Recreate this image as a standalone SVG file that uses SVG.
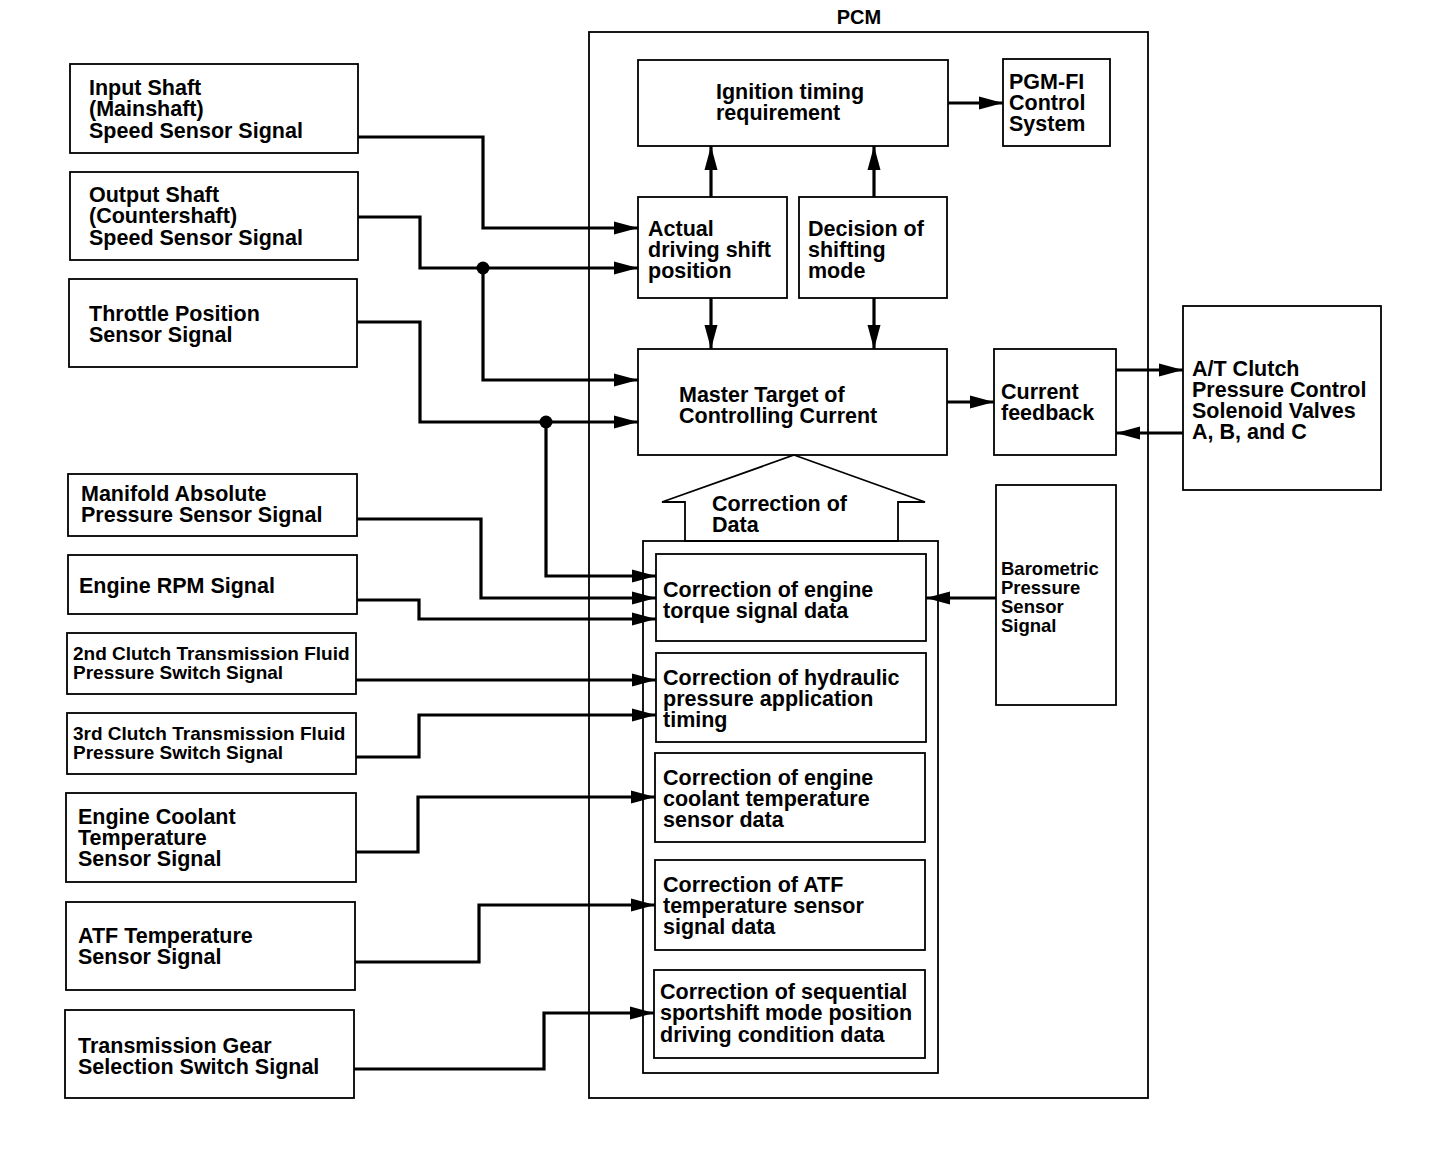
<svg xmlns="http://www.w3.org/2000/svg" width="1456" height="1172" viewBox="0 0 1456 1172">
<style>
.box{fill:none;stroke:#000;stroke-width:1.8}
.t{font-family:"Liberation Sans",Arial,sans-serif;font-weight:bold;font-size:21.5px;fill:#000}
.s{font-size:19px}
.b{font-size:18.5px}
.c{fill:none;stroke:#000;stroke-width:3.2}
.a{marker-end:url(#ah)}
</style>
<defs>
<marker id="ah" markerUnits="userSpaceOnUse" markerWidth="26" markerHeight="16" viewBox="0 0 26 16" refX="24" refY="8" orient="auto">
<path d="M0,1.5 L24,8 L0,14.5 Z" fill="#000"/>
</marker>
</defs>
<rect width="1456" height="1172" fill="#fff"/>

<g id="pcm">
<rect class="box" x="589" y="32" width="559" height="1066"/>
<text class="t" x="859" y="24" text-anchor="middle" style="font-size:20px">PCM</text>
</g>

<g id="n-input"><rect class="box" x="70" y="64" width="288" height="89"/>
<text class="t" x="89" y="95">Input Shaft</text><text class="t" x="89" y="116">(Mainshaft)</text><text class="t" x="89" y="138">Speed Sensor Signal</text></g>
<g id="n-output"><rect class="box" x="70" y="172" width="288" height="88"/>
<text class="t" x="89" y="202">Output Shaft</text><text class="t" x="89" y="223">(Countershaft)</text><text class="t" x="89" y="245">Speed Sensor Signal</text></g>
<g id="n-throttle"><rect class="box" x="69" y="279" width="288" height="88"/>
<text class="t" x="89" y="321">Throttle Position</text><text class="t" x="89" y="342">Sensor Signal</text></g>
<g id="n-map"><rect class="box" x="68" y="474" width="289" height="62"/>
<text class="t" x="81" y="501">Manifold Absolute</text><text class="t" x="81" y="522">Pressure Sensor Signal</text></g>
<g id="n-rpm"><rect class="box" x="68" y="555" width="289" height="59"/>
<text class="t" x="79" y="593">Engine RPM Signal</text></g>
<g id="n-2nd"><rect class="box" x="67" y="633" width="289" height="61"/>
<text class="t s" x="73" y="660">2nd Clutch Transmission Fluid</text><text class="t s" x="73" y="679">Pressure Switch Signal</text></g>
<g id="n-3rd"><rect class="box" x="67" y="713" width="289" height="61"/>
<text class="t s" x="73" y="740">3rd Clutch Transmission Fluid</text><text class="t s" x="73" y="759">Pressure Switch Signal</text></g>
<g id="n-ect"><rect class="box" x="66" y="793" width="290" height="89"/>
<text class="t" x="78" y="824">Engine Coolant</text><text class="t" x="78" y="845">Temperature</text><text class="t" x="78" y="866">Sensor Signal</text></g>
<g id="n-atf"><rect class="box" x="66" y="902" width="289" height="88"/>
<text class="t" x="78" y="943">ATF Temperature</text><text class="t" x="78" y="964">Sensor Signal</text></g>
<g id="n-gear"><rect class="box" x="65" y="1010" width="289" height="88"/>
<text class="t" x="78" y="1053">Transmission Gear</text><text class="t" x="78" y="1074">Selection Switch Signal</text></g>

<g id="n-ign"><rect class="box" x="638" y="60" width="310" height="86"/>
<text class="t" x="716" y="99">Ignition timing</text><text class="t" x="716" y="120">requirement</text></g>
<g id="n-pgmfi"><rect class="box" x="1003" y="59" width="107" height="87"/>
<text class="t" x="1009" y="89">PGM-FI</text><text class="t" x="1009" y="110">Control</text><text class="t" x="1009" y="131">System</text></g>
<g id="n-actual"><rect class="box" x="638" y="197" width="149" height="101"/>
<text class="t" x="648" y="236">Actual</text><text class="t" x="648" y="257">driving shift</text><text class="t" x="648" y="278">position</text></g>
<g id="n-decision"><rect class="box" x="799" y="197" width="148" height="101"/>
<text class="t" x="808" y="236">Decision of</text><text class="t" x="808" y="257">shifting</text><text class="t" x="808" y="278">mode</text></g>
<g id="n-master"><rect class="box" x="638" y="349" width="309" height="106"/>
<text class="t" x="679" y="402">Master Target of</text><text class="t" x="679" y="423">Controlling Current</text></g>
<g id="n-feedback"><rect class="box" x="994" y="349" width="122" height="106"/>
<text class="t" x="1001" y="399">Current</text><text class="t" x="1001" y="420">feedback</text></g>
<g id="n-solenoid"><rect class="box" x="1183" y="306" width="198" height="184"/>
<text class="t" x="1192" y="376">A/T Clutch</text><text class="t" x="1192" y="397">Pressure Control</text><text class="t" x="1192" y="418">Solenoid Valves</text><text class="t" x="1192" y="439">A, B, and C</text></g>
<g id="n-baro"><rect class="box" x="996" y="485" width="120" height="220"/>
<text class="t b" x="1001" y="575">Barometric</text><text class="t b" x="1001" y="594">Pressure</text><text class="t b" x="1001" y="613">Sensor</text><text class="t b" x="1001" y="632">Signal</text></g>

<g id="n-correction">
<polygon points="794,455 925,502 898,502 898,541 685,541 685,502 662,502" fill="#fff" stroke="#000" stroke-width="1.8"/>
<text class="t" x="712" y="511">Correction of</text><text class="t" x="712" y="532">Data</text>
<rect class="box" x="643" y="541" width="295" height="532"/>
</g>
<g id="n-torque"><rect class="box" x="656" y="554" width="270" height="87"/>
<text class="t" x="663" y="597">Correction of engine</text><text class="t" x="663" y="618">torque signal data</text></g>
<g id="n-hydraulic"><rect class="box" x="656" y="653" width="270" height="89"/>
<text class="t" x="663" y="685">Correction of hydraulic</text><text class="t" x="663" y="706">pressure application</text><text class="t" x="663" y="727">timing</text></g>
<g id="n-coolant"><rect class="box" x="655" y="753" width="270" height="89"/>
<text class="t" x="663" y="785">Correction of engine</text><text class="t" x="663" y="806">coolant temperature</text><text class="t" x="663" y="827">sensor data</text></g>
<g id="n-atfcorr"><rect class="box" x="655" y="860" width="270" height="90"/>
<text class="t" x="663" y="892">Correction of ATF</text><text class="t" x="663" y="913">temperature sensor</text><text class="t" x="663" y="934">signal data</text></g>
<g id="n-seq"><rect class="box" x="654" y="970" width="271" height="88"/>
<text class="t" x="660" y="999">Correction of sequential</text><text class="t" x="660" y="1020">sportshift mode position</text><text class="t" x="660" y="1042">driving condition data</text></g>

<g id="connectors">
<path class="c a" d="M358,137 H483 V228 H638"/>
<path class="c a" d="M358,217 H420 V268 H638"/>
<path class="c a" d="M483,268 V380 H638"/>
<path class="c a" d="M357,322 H420 V422 H638"/>
<path class="c a" d="M546,422 V576 H656"/>
<path class="c a" d="M357,519 H481 V598 H656"/>
<path class="c a" d="M357,600 H419 V619 H656"/>
<path class="c a" d="M356,680 H656"/>
<path class="c a" d="M356,757 H419 V715 H656"/>
<path class="c a" d="M356,852 H418 V797 H655"/>
<path class="c a" d="M355,962 H479 V905 H655"/>
<path class="c a" d="M354,1069 H544 V1013 H654"/>
<path class="c a" d="M711,197 V146"/>
<path class="c a" d="M874,197 V146"/>
<path class="c a" d="M711,298 V349"/>
<path class="c a" d="M874,298 V349"/>
<path class="c a" d="M948,103 H1003"/>
<path class="c a" d="M947,402 H994"/>
<path class="c a" d="M1116,370 H1183"/>
<path class="c a" d="M1183,433 H1116"/>
<path class="c a" d="M996,598 H926"/>
<circle cx="483" cy="268" r="6.5" fill="#000"/>
<circle cx="546" cy="422" r="6.5" fill="#000"/>
</g>
</svg>
